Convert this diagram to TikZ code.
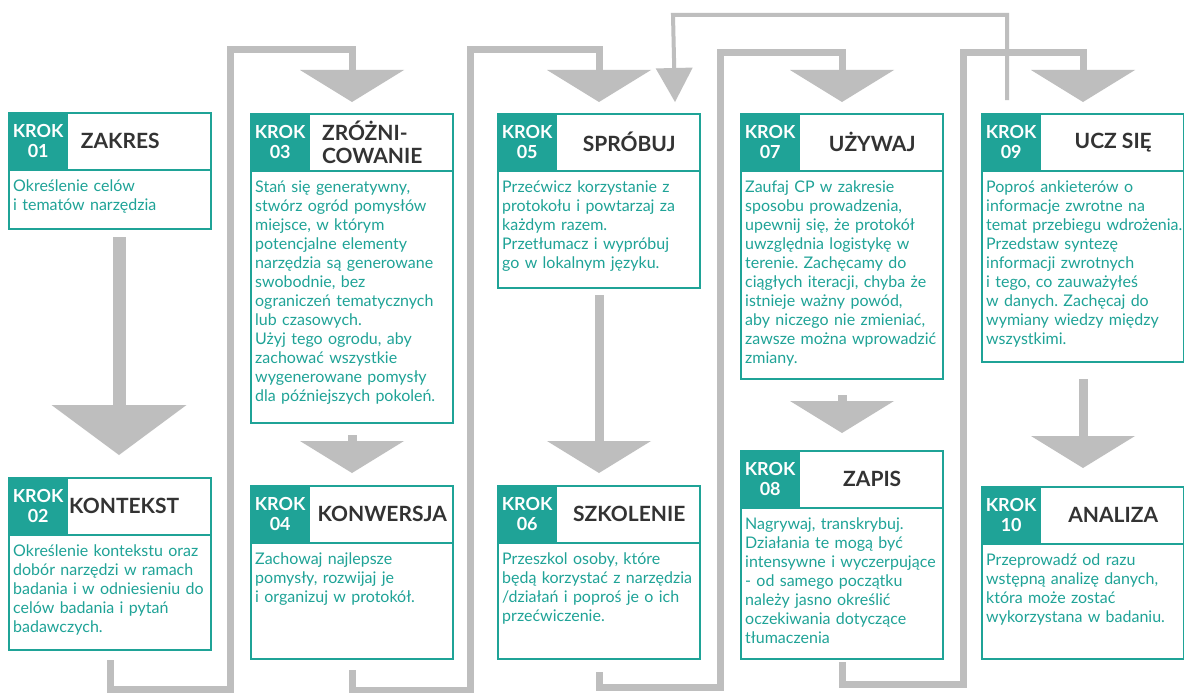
\documentclass[tikz,border=0pt]{standalone}
\usepackage{fontspec}
\setmainfont{Lato}
\usetikzlibrary{positioning,arrows.meta}
\definecolor{morski}{RGB}{31,163,151}
\definecolor{szary}{RGB}{190,190,190}
\definecolor{grafit}{RGB}{51,51,51}
\frenchspacing

\begin{document}
\begin{tikzpicture}[x=1pt,y=-1pt,
  ramka/.style={draw=morski, line width=2pt, anchor=north west, minimum width=202pt, inner sep=0pt},
  krok/.style={fill=morski, text=white, anchor=north west, minimum width=60pt, minimum height=58pt, inner sep=0pt, align=center, font=\fontsize{18}{20}\selectfont\bfseries},
  tytul/.style={text=grafit, align=center, font=\fontsize{21}{23}\selectfont\bfseries},
  opis/.style={text=morski, anchor=north west, text width=215pt, inner xsep=5pt, inner ysep=9pt, align=left, font=\fontsize{16}{19}\selectfont},
  pasek/.style={draw=morski, line width=2pt},
  strzalka/.style={szary, line width=9pt, -{Triangle[width=104pt,length=32pt,line width=0pt]}},
  lacznik/.style={szary, line width=7pt, -{Triangle[width=104pt,length=32pt,line width=0pt]}},
  powrot/.style={szary, line width=4pt, -{Triangle[width=37pt,length=34pt,line width=0pt]}}]

% Obszar
\useasboundingbox[fill=white] (0,0) rectangle (1184,693);

% Krok 01
\node[ramka, minimum height=116pt] (b1) at (8,112) {};
\node[krok] (k1) at (b1.north west) {KROK\\01};
\draw[pasek] (k1.south west) -- (k1.south west -| b1.east);
\path (k1.east) -- (k1.east -| b1.east) node[tytul, midway, xshift=-20pt] (t1) {ZAKRES};
\node[opis] (o1) at (k1.south west) {Określenie celów\\i tematów narzędzia};

% Krok 02
\node[ramka, minimum height=172pt] (b2) at (8,477) {};
\node[krok] (k2) at (b2.north west) {KROK\\02};
\draw[pasek] (k2.south west) -- (k2.south west -| b2.east);
\path (k2.east) -- (k2.east -| b2.east) node[tytul, midway, xshift=-16pt] (t2) {KONTEKST};
\node[opis] (o2) at (k2.south west) {Określenie kontekstu oraz\\dobór narzędzi w ramach\\badania i w odniesieniu do\\celów badania i pytań\\badawczych.};

% Krok 03
\node[ramka, minimum height=309pt] (b3) at (250,113) {};
\node[krok] (k3) at (b3.north west) {KROK\\03};
\draw[pasek] (k3.south west) -- (k3.south west -| b3.east);
\path (k3.east) -- (k3.east -| b3.east) node[tytul, midway, align=left, xshift=-10pt] (t3) {ZRÓŻNI-\\COWANIE};
\node[opis] (o3) at (k3.south west) {Stań się generatywny,\\stwórz ogród pomysłów\\miejsce, w którym\\potencjalne elementy\\narzędzia są generowane\\swobodnie, bez\\ograniczeń tematycznych\\lub czasowych.\\Użyj tego ogrodu, aby\\zachować wszystkie\\wygenerowane pomysły\\dla późniejszych pokoleń.};

% Krok 04
\node[ramka, minimum height=173pt] (b4) at (250,485) {};
\node[krok] (k4) at (b4.north west) {KROK\\04};
\draw[pasek] (k4.south west) -- (k4.south west -| b4.east);
\path (k4.east) -- (k4.east -| b4.east) node[tytul, midway] (t4) {KONWERSJA};
\node[opis] (o4) at (k4.south west) {Zachowaj najlepsze\\pomysły, rozwijaj je\\i organizuj w protokół.};

% Krok 05
\node[ramka, minimum height=174pt] (b5) at (497,113) {};
\node[krok] (k5) at (b5.north west) {KROK\\05};
\draw[pasek] (k5.south west) -- (k5.south west -| b5.east);
\path (k5.east) -- (k5.east -| b5.east) node[tytul, midway] (t5) {SPRÓBUJ};
\node[opis] (o5) at (k5.south west) {Przećwicz korzystanie z\\protokołu i powtarzaj za\\każdym razem.\\Przetłumacz i wypróbuj\\go w lokalnym języku.};

% Krok 06
\node[ramka, minimum height=173pt] (b6) at (497,485) {};
\node[krok] (k6) at (b6.north west) {KROK\\06};
\draw[pasek] (k6.south west) -- (k6.south west -| b6.east);
\path (k6.east) -- (k6.east -| b6.east) node[tytul, midway] (t6) {SZKOLENIE};
\node[opis] (o6) at (k6.south west) {Przeszkol osoby, które\\będą korzystać z narzędzia\\/działań i poproś je o ich\\przećwiczenie.};

% Krok 07
\node[ramka, minimum height=265pt] (b7) at (740,113) {};
\node[krok] (k7) at (b7.north west) {KROK\\07};
\draw[pasek] (k7.south west) -- (k7.south west -| b7.east);
\path (k7.east) -- (k7.east -| b7.east) node[tytul, midway] (t7) {UŻYWAJ};
\node[opis] (o7) at (k7.south west) {Zaufaj CP w zakresie\\sposobu prowadzenia,\\upewnij się, że protokół\\uwzględnia logistykę w\\terenie. Zachęcamy do\\ciągłych iteracji, chyba że\\istnieje ważny powód,\\aby niczego nie zmieniać,\\zawsze można wprowadzić\\zmiany.};

% Krok 08
\node[ramka, minimum height=208pt] (b8) at (740,450) {};
\node[krok] (k8) at (b8.north west) {KROK\\08};
\draw[pasek] (k8.south west) -- (k8.south west -| b8.east);
\path (k8.east) -- (k8.east -| b8.east) node[tytul, midway] (t8) {ZAPIS};
\node[opis] (o8) at (k8.south west) {Nagrywaj, transkrybuj.\\Działania te mogą być\\intensywne i wyczerpujące\\- od samego początku\\należy jasno określić\\oczekiwania dotyczące\\tłumaczenia};

% Krok 09
\node[ramka, minimum height=248pt] (b9) at (981,113) {};
\node[krok] (k9) at (b9.north west) {KROK\\09};
\draw[pasek] (k9.south west) -- (k9.south west -| b9.east);
\path (k9.east) -- (k9.east -| b9.east) node[tytul, midway] (t9) {UCZ SIĘ};
\node[opis] (o9) at (k9.south west) {Poproś ankieterów o\\informacje zwrotne na\\temat przebiegu wdrożenia.\\Przedstaw syntezę\\informacji zwrotnych\\i tego, co zauważyłeś\\w danych. Zachęcaj do\\wymiany wiedzy między\\wszystkimi.};

% Krok 10
\node[ramka, minimum height=172pt] (b10) at (981,486) {};
\node[krok] (k10) at (b10.north west) {KROK\\10};
\draw[pasek] (k10.south west) -- (k10.south west -| b10.east);
\path (k10.east) -- (k10.east -| b10.east) node[tytul, midway] (t10) {ANALIZA};
\node[opis] (o10) at (k10.south west) {Przeprowadź od razu\\wstępną analizę danych,\\która może zostać\\wykorzystana w badaniu.};

% Strzalki w kolumnach
\draw[strzalka, line width=13pt, -{Triangle[width=135pt,length=50pt,line width=0pt]}] ([shift={(9pt,-7pt)}]b1.south) -- ([shift={(9pt,22pt)}]b2.north);
\draw[strzalka] ([yshift=-11pt]b3.south) -- ([yshift=12pt]b4.north);
\draw[strzalka] ([yshift=-6pt]b5.south) -- ([yshift=12pt]b6.north);
\draw[strzalka] ([yshift=-15pt]b7.south) -- ([yshift=17pt]b8.north);
\draw[strzalka] ([yshift=-16pt]b9.south) -- ([yshift=18pt]b10.north);

% Powrot z kroku 09 do kroku 05
\coordinate (f1) at (673,15);
\draw[powrot] ([shift={(26pt,13pt)}]b9.north west) |- (f1) -- ([shift={(-26pt,11pt)}]b5.north east);

% Laczniki miedzy kolumnami
\coordinate (d1) at (230,689);
\coordinate (g1) at (230,50);
\draw[lacznik] ([yshift=-9pt]b2.south) |- (d1) -- (g1) -| ([yshift=11pt]b3.north);

\coordinate (d2) at (470,690);
\coordinate (g2) at (470,50);
\draw[lacznik] ([yshift=-10pt]b4.south) |- (d2) -- (g2) -| ([yshift=11pt]b5.north);

\coordinate (d3) at (720,687);
\coordinate (g3) at (720,53);
\draw[lacznik] ([yshift=-12pt]b6.south) |- (d3) -- (g3) -| ([yshift=11pt]b7.north);

\coordinate (d4) at (963,684);
\coordinate (g4) at (963,53);
\draw[lacznik] ([yshift=-2pt]b8.south) |- (d4) -- (g4) -| ([yshift=11pt]b9.north);

\end{tikzpicture}
\end{document}
